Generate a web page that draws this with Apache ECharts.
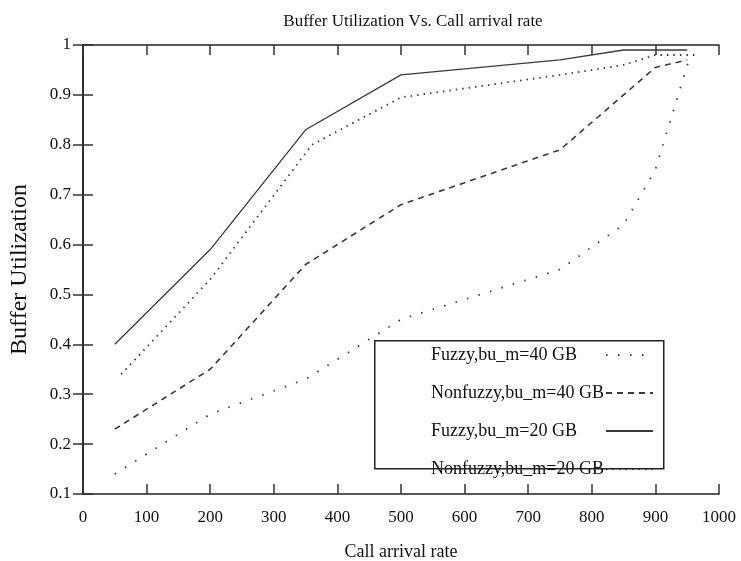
<!DOCTYPE html>
<html><head><meta charset="utf-8">
<script src="https://cdn.jsdelivr.net/npm/echarts@6/dist/echarts.min.js"></script>
<style>html,body{margin:0;padding:0;background:#fff}#c{width:741px;height:561px}</style>
</head><body><div id="c"></div>
<script>
var seriesNames = ['Fuzzy,bu_m=40 GB', 'Nonfuzzy,bu_m=40 GB', 'Fuzzy,bu_m=20 GB', 'Nonfuzzy,bu_m=20 GB'];
var fuzzy40X = [50, 200, 350, 500, 750, 850, 900, 955];
var fuzzy40Y = [0.14, 0.26, 0.33, 0.45, 0.55, 0.64, 0.75, 0.98];
var nonfuzzy40X = [50, 200, 350, 500, 750, 850, 900, 950];
var nonfuzzy40Y = [0.23, 0.35, 0.56, 0.68, 0.79, 0.90, 0.955, 0.97];
var fuzzy20X = [50, 200, 350, 500, 750, 850, 950];
var fuzzy20Y = [0.40, 0.59, 0.83, 0.94, 0.97, 0.99, 0.99];
var nonfuzzy20X = [60, 200, 360, 500, 750, 850, 900, 965];
var nonfuzzy20Y = [0.34, 0.53, 0.80, 0.895, 0.94, 0.96, 0.98, 0.98];
var xTicks = [0, 100, 200, 300, 400, 500, 600, 700, 800, 900, 1000];
var yTicks = [0.1, 0.2, 0.3, 0.4, 0.5, 0.6, 0.7, 0.8, 0.9, 1];

function pairs(xs, ys) { return xs.map(function (x, i) { return [x, ys[i]]; }); }

var font = '"Liberation Serif", "DejaVu Serif", serif';
var lineColor = '#3a3a3a';
var chart = echarts.init(document.getElementById('c'));
var axisCommon = {
  axisLine: { show: true, lineStyle: { color: '#222', width: 1.5 } },
  axisTick: { show: true, inside: true, length: 10, lineStyle: { color: '#333', width: 1.5 } },
  splitLine: { show: false }
};
chart.setOption({
  animation: false,
  color: [lineColor, lineColor, lineColor, lineColor],
  title: {
    text: 'Buffer Utilization Vs. Call arrival rate',
    left: 408, top: 8, textAlign: 'center',
    textStyle: { fontFamily: font, fontSize: 17, fontWeight: 'normal', color: '#111' }
  },
  grid: { left: 83, right: 22, top: 45, bottom: 67, outerBoundsMode: 'none', containLabel: false },
  xAxis: [
    Object.assign({
      type: 'value', min: 0, max: 1000, interval: 100, position: 'bottom',
      name: 'Call arrival rate', nameLocation: 'middle', nameGap: 49,
      nameTextStyle: { fontFamily: font, fontSize: 18, color: '#111' },
      axisLabel: { fontFamily: font, fontSize: 17, color: '#111', margin: 15,
        formatter: function (v) { return xTicks.indexOf(v) >= 0 ? String(v) : ''; } }
    }, axisCommon),
    Object.assign({
      type: 'value', min: 0, max: 1000, interval: 100, position: 'top',
      axisLabel: { show: false }
    }, axisCommon)
  ],
  yAxis: [
    Object.assign({
      type: 'value', min: 0.1, max: 1, interval: 0.1, position: 'left',
      name: 'Buffer Utilization', nameLocation: 'middle', nameGap: 51, nameRotate: 90,
      nameTextStyle: { fontFamily: font, fontSize: 24, fontWeight: 'normal', color: '#111' },
      axisLabel: { fontFamily: font, fontSize: 17, color: '#111', margin: 12,
        formatter: function (v) { var r = Math.round(v * 10) / 10; return r === 1 ? '1' : r.toFixed(1); } }
    }, axisCommon),
    Object.assign({
      type: 'value', min: 0.1, max: 1, interval: 0.1, position: 'right',
      axisLabel: { show: false }
    }, axisCommon)
  ],
  legend: {
    orient: 'vertical', left: 426, top: 341, align: 'right',
    itemWidth: 47, itemHeight: 14, itemGap: 20,
    data: seriesNames,
    itemStyle: { opacity: 0 },
    formatter: '{a|{name}}',
    textStyle: { fontFamily: font, fontSize: 18, color: '#111',
      rich: { a: { fontFamily: font, fontSize: 18, color: '#111', width: 170, align: 'left' } } }
  },
  graphic: [{
    type: 'rect', left: 374, top: 340,
    shape: { width: 289, height: 128 },
    style: { fill: 'rgba(0,0,0,0)', stroke: '#222', lineWidth: 1.5 },
    z: 100
  }],
  series: [
    { name: seriesNames[0], type: 'line', data: pairs(fuzzy40X, fuzzy40Y), symbol: 'none',
      lineStyle: { color: lineColor, width: 1.8, type: [1.5, 10.5] } },
    { name: seriesNames[1], type: 'line', data: pairs(nonfuzzy40X, nonfuzzy40Y), symbol: 'none',
      lineStyle: { color: lineColor, width: 1.6, type: [6, 5] } },
    { name: seriesNames[2], type: 'line', data: pairs(fuzzy20X, fuzzy20Y), symbol: 'none',
      lineStyle: { color: lineColor, width: 1.3, type: 'solid' } },
    { name: seriesNames[3], type: 'line', data: pairs(nonfuzzy20X, nonfuzzy20Y), symbol: 'none',
      lineStyle: { color: lineColor, width: 1.8, type: [1.5, 5] } }
  ]
});
</script></body></html>
